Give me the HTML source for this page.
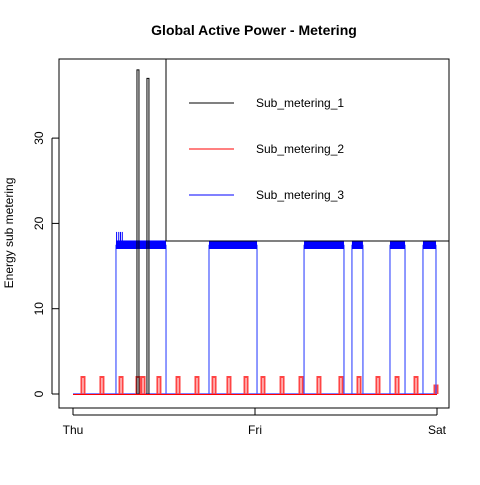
<!DOCTYPE html>
<html><head><meta charset="utf-8"><style>
body{margin:0;background:#fff}
svg text{font-family:"Liberation Sans",Arial,sans-serif}
</style></head><body>
<svg id="chart" width="480" height="480" viewBox="0 0 480 480" xmlns="http://www.w3.org/2000/svg">
<rect width="480" height="480" fill="#fff"/>
<text x="254" y="35" text-anchor="middle" font-size="14" font-weight="bold">Global Active Power - Metering</text>
<text transform="translate(13,233) rotate(-90)" text-anchor="middle" font-size="12">Energy sub metering</text>
<g id="marks"></g>
<rect x="59" y="59" width="390" height="349" fill="none" stroke="#000"/>
<g id="axes"></g>
<g>
<rect x="166" y="59" width="283" height="182" fill="none" stroke="#000"/>
<line x1="189" y1="103" x2="234" y2="103" stroke="#000"/>
<text x="256" y="107" font-size="12">Sub_metering_1</text>
<line x1="189" y1="149" x2="234" y2="149" stroke="#f00"/>
<text x="256" y="153" font-size="12">Sub_metering_2</text>
<line x1="189" y1="195" x2="234" y2="195" stroke="#00f"/>
<text x="256" y="199" font-size="12">Sub_metering_3</text>
</g>
</svg>
<script>
const xTickLabels = ["Thu","Fri","Sat"];
const xTickMinutes = [0,1440,2880];
const yTicks = [0,10,20,30];
const blueStarts = [340,1076,1828,2207,2508,2769];
const blueEnds = [736,1456,2144,2294,2627,2872];
const blueLevels = [17.5,17.5,17.5,17.5,17.5,17.5];
const blueSpikeTimes = [345,362,376,390];
const blueSpikeValues = [19,19,19,19];
const blackTimes = [514,593];
const blackValues = [38,37];
const redTimes = [79,229,380,514,554,680,831,981,1116,1234,1369,1503,1654,1804,1946,2120,2263,2413,2564,2714,2872];
const redValues = [2,2,2,2,2,2,2,2,2,2,2,2,2,2,2,2,2,2,2,2,1];

const NS="http://www.w3.org/2000/svg";
const xs = m => 73 + m/2880*364;
const ys = v => 394 - v*8.53;
const marks=document.getElementById('marks'), axes=document.getElementById('axes');
function mk(tag,attrs,parent){const e=document.createElementNS(NS,tag);for(const k in attrs)e.setAttribute(k,attrs[k]);parent.appendChild(e);return e;}

let e=mk('line',{x1:xs(0),x2:xs(2880),y1:ys(0),y2:ys(0),stroke:'#00f'},marks);



redTimes.forEach((t,i)=>{
  const p=mk('path',{d:`M${xs(t)-1.5},${ys(0)} V${ys(redValues[i])} H${xs(t)+1.5} V${ys(0)}`,fill:'none',stroke:'#f44','stroke-width':2},marks);
  
  
});
e=mk('line',{x1:xs(0),x2:xs(2880),y1:ys(0)+0.5,y2:ys(0)+0.5,stroke:'#f00'},marks);



blueStarts.forEach((s,i)=>{
  const x1=xs(s),x2=xs(blueEnds[i]),v=blueLevels[i];
  const p=mk('path',{d:`M${x1},${ys(0)} V${ys(v)} M${x2},${ys(v)} V${ys(0)}`,fill:'none',stroke:'#4455ff','stroke-width':1.2},marks);
  
  
  const r=mk('rect',{x:x1,y:ys(v+0.5),width:x2-x1,height:ys(v-0.5)-ys(v+0.5),fill:'#0000ff'},marks);
  
  
});
blueSpikeTimes.forEach((t,i)=>{
  const l=mk('line',{x1:xs(t),x2:xs(t),y1:ys(17),y2:ys(blueSpikeValues[i]),stroke:'#00f','stroke-width':1},marks);
  
  
});

blackTimes.forEach((t,i)=>{
  const p=mk('path',{d:`M${xs(t)-1},${ys(0)} V${ys(blackValues[i])} H${xs(t)+1} V${ys(0)}`,fill:'none',stroke:'#000','stroke-width':1},marks);
  
  
});

yTicks.forEach(v=>{
  const l=mk('line',{x1:52,x2:59,y1:ys(v),y2:ys(v),stroke:'#000'},axes);
  
  
  const t=mk('text',{transform:`translate(43,${ys(v)}) rotate(-90)`,'text-anchor':'middle','font-size':12},axes);
  t.textContent=v;
  
  
});
e=mk('line',{x1:52,x2:52,y1:ys(0),y2:ys(30),stroke:'#000'},axes);


xTickMinutes.forEach((m,i)=>{
  const l=mk('line',{x1:xs(m),x2:xs(m),y1:408,y2:415,stroke:'#000'},axes);
  
  
  const t=mk('text',{x:xs(m),y:434,'text-anchor':'middle','font-size':12},axes);
  t.textContent=xTickLabels[i];
  
  
});
e=mk('line',{x1:xs(0),x2:xs(2880),y1:415,y2:415,stroke:'#000'},axes);


</script>
</body></html>
